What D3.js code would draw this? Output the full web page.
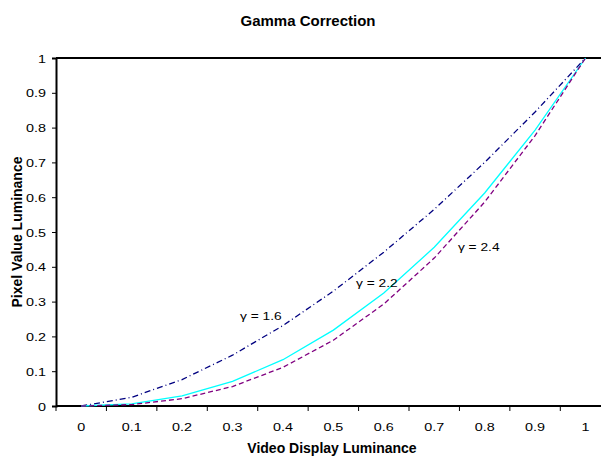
<!DOCTYPE html>
<html>
<head>
<meta charset="utf-8">
<script src="https://cdn.jsdelivr.net/npm/d3@7"></script>
<style>
  body { margin: 0; background: #fff; }
  text { font-family: "Liberation Sans", Arial, sans-serif; fill: #000; }
</style>
</head>
<body>
<div id="chart"></div>
<script>
// categories on the x axis (video display luminance)
const categories = ["0", "0.1", "0.2", "0.3", "0.4", "0.5", "0.6", "0.7", "0.8", "0.9", "1"];

// pixel value luminance
const gamma16 = [0, 0.025, 0.076, 0.146, 0.231, 0.330, 0.442, 0.565, 0.700, 0.845, 1];
const gamma22 = [0, 0.006, 0.029, 0.071, 0.133, 0.218, 0.325, 0.456, 0.612, 0.793, 1];
const gamma24 = [0, 0.004, 0.021, 0.056, 0.111, 0.189, 0.293, 0.425, 0.586, 0.777, 1];

const yTicks = [0, 0.1, 0.2, 0.3, 0.4, 0.5, 0.6, 0.7, 0.8, 0.9, 1];

// curve labels, in data units (category index, value)
const labelText = ["γ = 1.6", "γ = 2.2", "γ = 2.4"];
const labelAt = [[3.15, 0.247], [5.45, 0.342], [7.47, 0.445]];

const width = 601, height = 458;
const margin = { top: 58, left: 56, bottom: 52 };
const bandWidth = 50.43;
const stretch = 1.25;   // small labels in the original are wider than tall

const svg = d3.select("#chart")
    .append("svg")
    .attr("width", width)
    .attr("height", height);

const x = d3.scaleBand()
    .domain(categories)
    .range([margin.left, margin.left + bandWidth * categories.length])
    .padding(0);

const y = d3.scaleLinear()
    .domain([0, 1])
    .range([height - margin.bottom, margin.top]);

const xi = i => x(categories[0]) + (i + 0.5) * x.bandwidth();

// text helper: placed at (px, py), stretched horizontally
function label(parent, px, py, str, size, anchor) {
    return parent.append("text")
        .attr("transform", `translate(${px},${py}) scale(${stretch},1)`)
        .attr("text-anchor", anchor || "start")
        .style("font-size", size + "px")
        .text(str);
}

// title
svg.append("text")
    .attr("x", 308)
    .attr("y", 26)
    .attr("text-anchor", "middle")
    .style("font-weight", "bold")
    .style("font-size", "15px")
    .text("Gamma Correction");

// top border of plot area
svg.append("line")
    .attr("x1", margin.left)
    .attr("x2", width)
    .attr("y1", y(1))
    .attr("y2", y(1))
    .attr("stroke", "#000")
    .attr("stroke-width", 2);

// y axis
const yAxis = svg.append("g")
    .attr("transform", `translate(${margin.left},0)`)
    .call(d3.axisLeft(y).tickValues(yTicks).tickSize(4).tickFormat(d3.format("")));

yAxis.select(".domain").attr("stroke-width", 2);
yAxis.selectAll(".tick text").remove();
yAxis.selectAll(".tick").each(function(d) {
    label(d3.select(this), -10, 4, d3.format("")(d), 11.5, "end");
});

// x axis: ticks at category boundaries, labels at centres
const xAxis = svg.append("g")
    .attr("transform", `translate(0,${y(0)})`);

xAxis.append("line")
    .attr("x1", margin.left)
    .attr("x2", width)
    .attr("stroke", "#000")
    .attr("stroke-width", 2);

xAxis.selectAll(".xtick")
    .data(categories)
    .enter()
    .append("line")
    .attr("class", "xtick")
    .attr("x1", d => x(d))
    .attr("x2", d => x(d))
    .attr("y1", 0)
    .attr("y2", 5)
    .attr("stroke", "#000");

categories.forEach(c => {
    label(xAxis, x(c) + x.bandwidth() / 2, 25, c, 11.5, "middle");
});

// axis titles
svg.append("text")
    .attr("x", 332)
    .attr("y", 453)
    .attr("text-anchor", "middle")
    .style("font-weight", "bold")
    .style("font-size", "14px")
    .text("Video Display Luminance");

svg.append("text")
    .attr("transform", `translate(21.5,${(y(0) + y(1)) / 2}) rotate(-90)`)
    .attr("text-anchor", "middle")
    .style("font-weight", "bold")
    .style("font-size", "14px")
    .text("Pixel Value Luminance");

// curves
const line = d3.line()
    .x((d, i) => xi(i))
    .y(d => y(d));

const series = [
    { values: gamma16, color: "#000080", dash: "6,3,1,3" },
    { values: gamma22, color: "#00ffff", dash: null },
    { values: gamma24, color: "#800080", dash: "5,3" }
];

svg.selectAll(".curve")
    .data(series)
    .enter()
    .append("path")
    .attr("class", "curve")
    .attr("d", d => line(d.values))
    .attr("fill", "none")
    .attr("stroke", d => d.color)
    .attr("stroke-width", 1.3)
    .attr("stroke-dasharray", d => d.dash);

// curve labels
labelText.forEach((t, i) => {
    label(svg, xi(labelAt[i][0]), y(labelAt[i][1]), t, 11, "start");
});
</script>
</body>
</html>
